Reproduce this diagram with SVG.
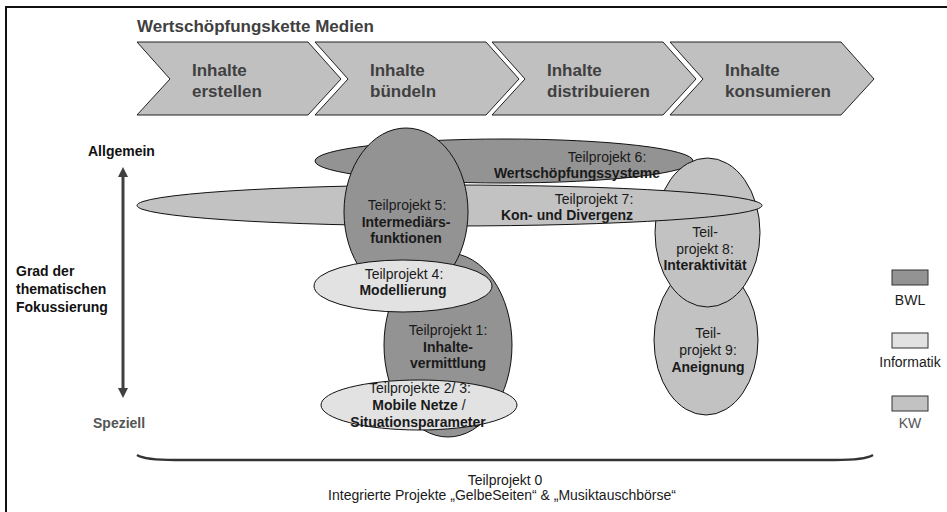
<svg xmlns="http://www.w3.org/2000/svg" width="947" height="512" viewBox="0 0 947 512">
<style>
text{font-family:"Liberation Sans",Arial,Helvetica,sans-serif;font-size:14px;fill:#1a1a1a}
.b{font-weight:bold}
.c{text-anchor:middle}
.chev{fill:#c0c0c0;stroke:#222;stroke-width:1}
.ct{font-size:17px;font-weight:bold;fill:#404040}
.bwl{fill:#939393;stroke:#111;stroke-width:1}
.kw{fill:#c2c2c2;stroke:#111;stroke-width:1}
.inf{fill:#e2e2e2;stroke:#111;stroke-width:1}
.ax{font-weight:bold;fill:#111}
</style>
<rect x="0" y="0" width="947" height="512" fill="#fff"/>
<rect x="6" y="7" width="960" height="520" fill="none" stroke="#111" stroke-width="2"/>

<g id="title"><text x="137" y="32" class="b" style="font-size:17px;fill:#404040">Wertschöpfungskette Medien</text></g>

<g id="chevron1"><polygon class="chev" points="137,42 308,42 341,79 308,115 137,115 170,79"/>
<text class="ct" x="192" y="76">Inhalte</text><text class="ct" x="192" y="97">erstellen</text></g>
<g id="chevron2"><polygon class="chev" points="315,42 486,42 519,79 486,115 315,115 348,79"/>
<text class="ct" x="370" y="76">Inhalte</text><text class="ct" x="370" y="97">bündeln</text></g>
<g id="chevron3"><polygon class="chev" points="492,42 663,42 696,79 663,115 492,115 525,79"/>
<text class="ct" x="547" y="76">Inhalte</text><text class="ct" x="547" y="97">distribuieren</text></g>
<g id="chevron4"><polygon class="chev" points="670,42 841,42 874,79 841,115 670,115 703,79"/>
<text class="ct" x="725" y="76">Inhalte</text><text class="ct" x="725" y="97">konsumieren</text></g>

<g id="axis">
<text class="ax" x="88" y="156">Allgemein</text>
<line x1="123" y1="175" x2="123" y2="390" stroke="#404040" stroke-width="3"/>
<polygon points="123,167 118,177 128,177" fill="#404040"/>
<polygon points="123,398 118,388 128,388" fill="#404040"/>
<text class="ax" x="16" y="276">Grad der</text>
<text class="ax" x="16" y="294">thematischen</text>
<text class="ax" x="16" y="312">Fokussierung</text>
<text class="b" x="93" y="428" style="fill:#555">Speziell</text>
</g>

<g id="tp6"><ellipse class="bwl" cx="504" cy="161" rx="189" ry="22"/></g>
<g id="tp9"><ellipse class="kw" cx="706" cy="340" rx="52" ry="75"/>
<text class="c" x="708" y="338">Teil-</text><text class="c" x="708" y="355">projekt 9:</text><text class="c b" x="708" y="372">Aneignung</text></g>
<g id="tp8"><ellipse class="kw" cx="707.5" cy="232.5" rx="52.5" ry="74.5"/></g>
<g id="tp7"><ellipse class="kw" cx="449.5" cy="205.5" rx="312.5" ry="20.5"/></g>
<g id="tp6-label"><text class="c" x="607" y="162">Teilprojekt 6:</text><text class="c b" x="577" y="178">Wertschöpfungssysteme</text></g>
<g id="tp7-label"><text class="c" x="594" y="204">Teilprojekt 7:</text><text class="c b" x="567" y="220">Kon- und Divergenz</text></g>
<g id="tp8-label"><text class="c" x="705" y="237">Teil-</text><text class="c" x="705" y="254">projekt 8:</text><text class="c b" x="705" y="270">Interaktivität</text></g>
<g id="tp1"><ellipse class="bwl" cx="448" cy="345" rx="64" ry="92"/>
<text class="c" x="448" y="335">Teilprojekt 1:</text><text class="c b" x="448" y="352">Inhalte-</text><text class="c b" x="448" y="368">vermittlung</text></g>
<g id="tp5"><ellipse class="bwl" cx="406" cy="212" rx="62" ry="84"/>
<text class="c" x="407" y="210">Teilprojekt 5:</text><text class="c b" x="406" y="227">Intermediärs-</text><text class="c b" x="406" y="243">funktionen</text></g>
<g id="tp4"><ellipse class="inf" cx="403" cy="286" rx="89" ry="26"/>
<text class="c" x="404" y="279">Teilprojekt 4:</text><text class="c b" x="403" y="295">Modellierung</text></g>
<g id="tp23"><ellipse class="inf" cx="419" cy="405" rx="98" ry="25"/>
<text class="c" x="420" y="393">Teilprojekte 2/ 3:</text><text class="c" x="419" y="410"><tspan class="b">Mobile Netze</tspan> /</text><text class="c b" x="418" y="427">Situationsparameter</text></g>

<g id="legend">
<rect x="892" y="270" width="36" height="15" fill="#939393" stroke="#333" stroke-width="1"/>
<text class="c" x="910" y="305">BWL</text>
<rect x="892" y="333" width="36" height="15" fill="#e2e2e2" stroke="#333" stroke-width="1"/>
<text class="c" x="910" y="367">Informatik</text>
<rect x="892" y="396" width="36" height="15" fill="#c2c2c2" stroke="#333" stroke-width="1"/>
<text class="c" x="910" y="428" style="fill:#555">KW</text>
</g>

<g id="tp0">
<path d="M137,455 Q145,460 175,460 L835,460 Q865,460 873,455" fill="none" stroke="#333" stroke-width="2.5"/>
<text class="c" x="505" y="485">Teilprojekt 0</text>
<text class="c" x="502" y="500">Integrierte Projekte „GelbeSeiten“ &amp; „Musiktauschbörse“</text>
</g>
</svg>
